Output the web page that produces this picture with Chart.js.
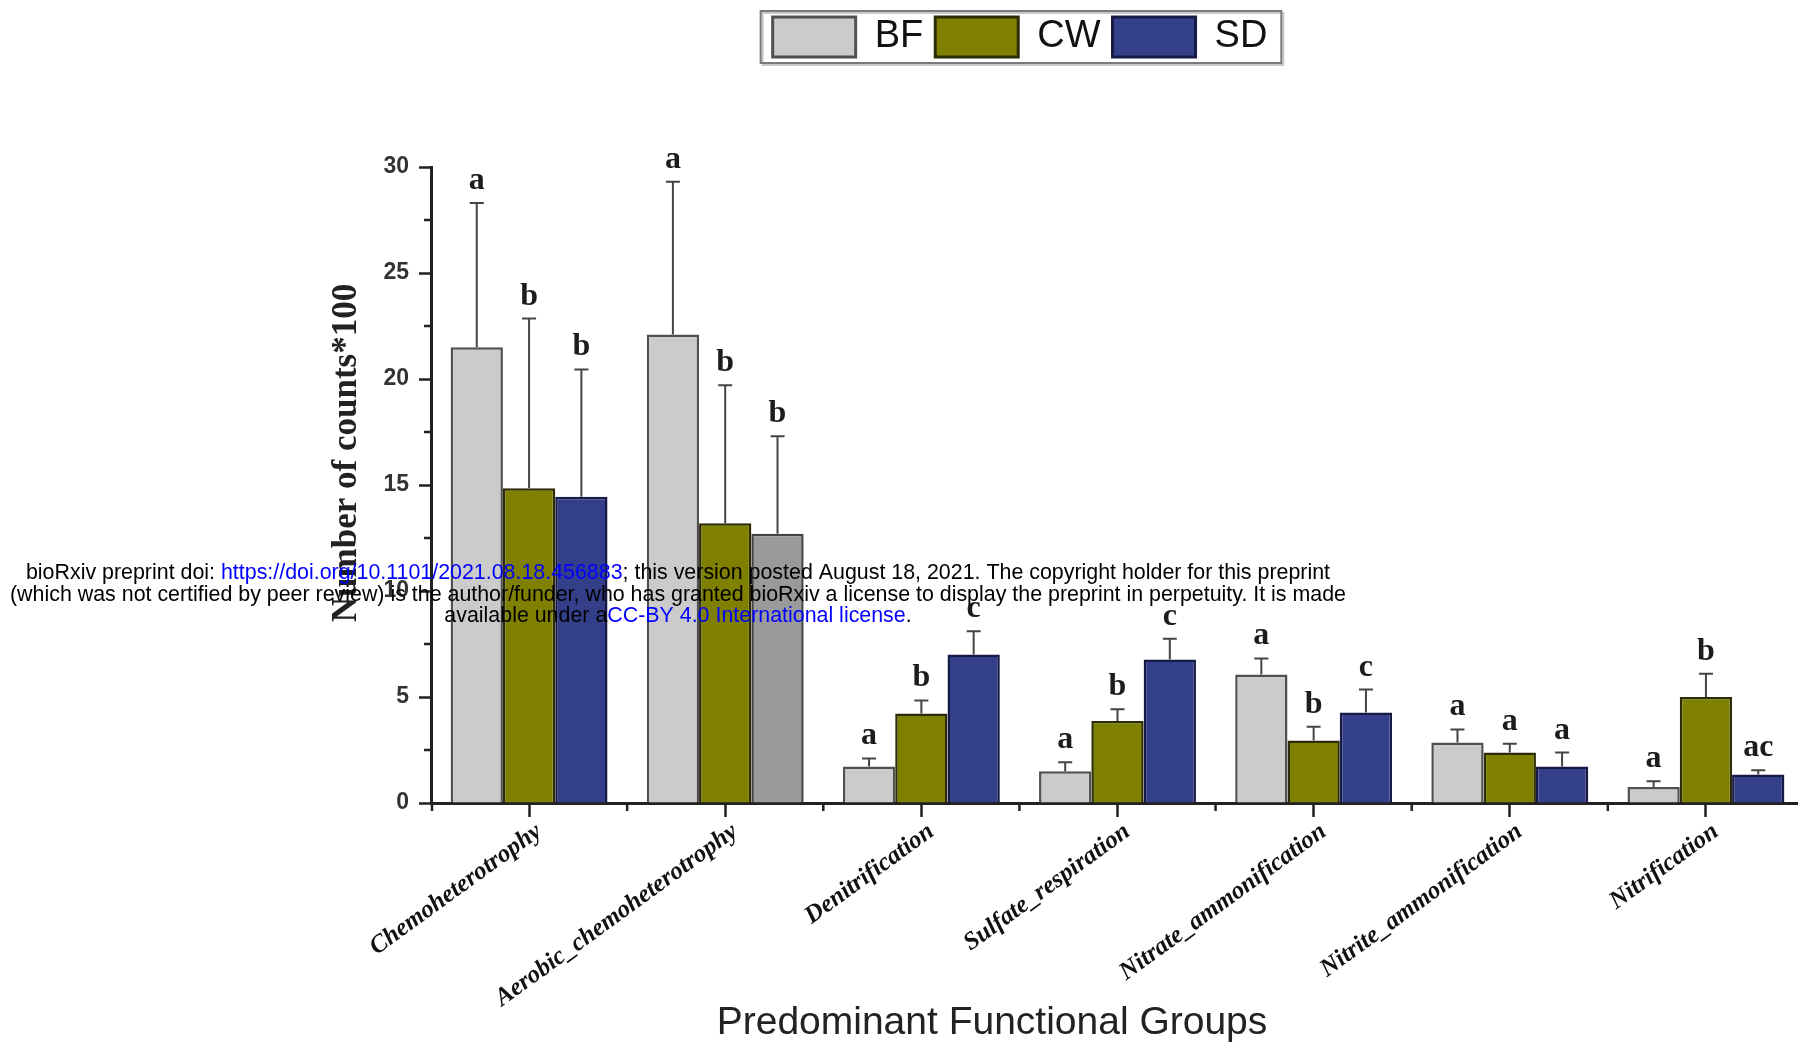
<!DOCTYPE html>
<html>
<head>
<meta charset="utf-8">
<script src="https://cdn.jsdelivr.net/npm/chart.js@4.4.1/dist/chart.umd.min.js"></script>
<style>
  html, body { margin: 0; padding: 0; background: #fff; overflow: hidden; width: 1798px; height: 1050px; }
  #wrap { position: absolute; left: 0; top: 0; width: 1830px; height: 1050px; }
</style>
</head>
<body>
<div id="wrap"><canvas id="c" width="1830" height="1050"></canvas></div>
<script>
// Functional group predictions per treatment (mean, upper SD, significance letters)
const categories = ['Chemoheterotrophy', 'Aerobic_chemoheterotrophy', 'Denitrification', 'Sulfate_respiration',
                    'Nitrate_ammonification', 'Nitrite_ammonification', 'Nitrification'];
const seriesNames = ['BF', 'CW', 'SD'];
const bfValues = [21.5, 22.1, 1.72, 1.5, 6.06, 2.85, 0.75];
const cwValues = [14.85, 13.2, 4.22, 3.87, 2.95, 2.38, 5.0];
const sdValues = [14.45, 12.7, 7.0, 6.77, 4.27, 1.72, 1.35];
const bfErrors = [6.8, 7.2, 0.38, 0.42, 0.76, 0.62, 0.28];
const cwErrors = [8.0, 6.5, 0.62, 0.55, 0.65, 0.42, 1.1];
const sdErrors = [6.0, 4.6, 1.1, 0.98, 1.08, 0.66, 0.2];
const bfLetters = ['a', 'a', 'a', 'a', 'a', 'a', 'a'];
const cwLetters = ['b', 'b', 'b', 'b', 'b', 'a', 'b'];
const sdLetters = ['b', 'b', 'c', 'c', 'c', 'a', 'ac'];
const yTickStep = 5;
const yMax = 30;
const yTitle = 'Number of counts*100';
const xTitle = 'Predominant Functional Groups';

const fills = ['#cbcbcb', '#808000', '#343f8a'];
const borders = ['#505050', '#2b2b05', '#161a45'];
const altFill = '#9a9a9a';      // second SD bar is rendered in grey
const altBorder = '#444444';

const serif = '"Liberation Serif", "Times New Roman", serif';
const sans = '"Liberation Sans", Arial, sans-serif';

// error bars and significance letters above each bar
const errorBars = {
  id: 'errorBars',
  afterDatasetsDraw(chart) {
    const ctx = chart.ctx, y = chart.scales.y;
    chart.data.datasets.forEach((ds, di) => {
      const meta = chart.getDatasetMeta(di);
      meta.data.forEach((bar, i) => {
        const top = y.getPixelForValue(ds.data[i]);
        const end = y.getPixelForValue(ds.data[i] + ds.errors[i]);
        ctx.save();
        ctx.strokeStyle = '#444';
        ctx.lineWidth = 2;
        ctx.beginPath();
        ctx.moveTo(bar.x, top);
        ctx.lineTo(bar.x, end);
        ctx.moveTo(bar.x - 7, end);
        ctx.lineTo(bar.x + 7, end);
        ctx.stroke();
        ctx.font = 'bold 32px ' + serif;
        ctx.fillStyle = '#1c1c1c';
        ctx.textAlign = 'center';
        ctx.textBaseline = 'alphabetic';
        ctx.fillText(ds.letters[i], bar.x, end - 14);
        ctx.restore();
      });
    });
  }
};

// minor ticks on both axes, axis titles, legend frame, preprint notice
const decorations = {
  id: 'decorations',
  afterDraw(chart) {
    const ctx = chart.ctx, ca = chart.chartArea;
    const x = chart.scales.x, y = chart.scales.y;
    ctx.save();
    ctx.strokeStyle = '#222';
    ctx.lineWidth = 2.5;
    ctx.beginPath();
    for (let v = yTickStep / 2; v < yMax; v += yTickStep) {
      const py = y.getPixelForValue(v);
      ctx.moveTo(ca.left - 7, py);
      ctx.lineTo(ca.left, py);
    }
    for (let i = 0; i < categories.length; i++) {
      const px = i === 0 ? ca.left + 1 : (x.getPixelForValue(i - 1) + x.getPixelForValue(i)) / 2;
      ctx.moveTo(px, ca.bottom);
      ctx.lineTo(px, ca.bottom + 8);
    }
    ctx.stroke();

    // axis titles
    ctx.fillStyle = '#222';
    ctx.textAlign = 'center';
    ctx.textBaseline = 'middle';
    ctx.save();
    ctx.translate(347, 453);
    ctx.rotate(-Math.PI / 2);
    ctx.font = 'bold 35px ' + serif;
    ctx.fillText(yTitle, 0, 0);
    ctx.restore();
    ctx.font = '39px ' + sans;
    ctx.fillText(xTitle, 992, 1023);

    // legend frame
    const boxes = chart.legend.legendHitBoxes;
    if (boxes && boxes.length) {
      const l = Math.min(...boxes.map(b => b.left)) - 12;
      const r = Math.max(...boxes.map(b => b.left + b.width)) + 14;
      const t = Math.min(...boxes.map(b => b.top)) - 6;
      const btm = Math.max(...boxes.map(b => b.top + b.height)) + 6;
      ctx.strokeStyle = '#c8c8c8';
      ctx.lineWidth = 2;
      ctx.strokeRect(l + 2, t + 2, r - l, btm - t);
      ctx.strokeStyle = '#7a7a7a';
      ctx.strokeRect(l, t, r - l, btm - t);
    }

    // preprint notice
    const lines = [
      [['bioRxiv preprint doi: ', '#000'], ['https://doi.org/10.1101/2021.08.18.456883', '#0000ff'],
       ['; this version posted August 18, 2021. The copyright holder for this preprint', '#000']],
      [['(which was not certified by peer review) is the author/funder, who has granted bioRxiv a license to display the preprint in perpetuity. It is made', '#000']],
      [['available under a', '#000'], ['CC-BY 4.0 International license', '#0000ff'], ['.', '#000']]
    ];
    const lineY = [573, 595, 616];
    ctx.font = '21.4px ' + sans;
    ctx.textAlign = 'left';
    lines.forEach((parts, li) => {
      const w = parts.reduce((s, p) => s + ctx.measureText(p[0]).width, 0);
      let cx = 678 - w / 2;
      parts.forEach(p => {
        ctx.fillStyle = p[1];
        ctx.fillText(p[0], cx, lineY[li]);
        cx += ctx.measureText(p[0]).width;
      });
    });
    ctx.restore();
  }
};

new Chart(document.getElementById('c'), {
  type: 'bar',
  data: {
    labels: categories,
    datasets: [
      { label: seriesNames[0], data: bfValues, errors: bfErrors, letters: bfLetters,
        backgroundColor: fills[0], borderColor: borders[0], borderWidth: 2.5 },
      { label: seriesNames[1], data: cwValues, errors: cwErrors, letters: cwLetters,
        backgroundColor: fills[1], borderColor: borders[1], borderWidth: 2.5 },
      { label: seriesNames[2], data: sdValues, errors: sdErrors, letters: sdLetters,
        backgroundColor: c => c.dataIndex === 1 ? altFill : fills[2],
        borderColor: c => c.dataIndex === 1 ? altBorder : borders[2], borderWidth: 2.5 }
    ]
  },
  options: {
    responsive: false,
    animation: false,
    datasets: { bar: { categoryPercentage: 0.8, barPercentage: 1.0 } },
    layout: { padding: { left: 236, right: 26, top: 5, bottom: 0 } },
    plugins: {
      tooltip: { enabled: false },
      legend: {
        position: 'top',
        labels: {
          boxWidth: 83, boxHeight: 40, padding: 12,
          font: { family: sans, size: 38 }, color: '#111',
          generateLabels: () => seriesNames.map((n, i) => ({
            text: n, fillStyle: fills[i], strokeStyle: borders[i], lineWidth: 3,
            hidden: false, datasetIndex: i, fontColor: '#111'
          }))
        }
      },
      // empty spacer between the legend and the plotting area
      subtitle: {
        display: true, text: '', position: 'top', weight: 10,
        font: { size: 10, lineHeight: 1 }, padding: { top: 0, bottom: 90 }
      }
    },
    scales: {
      x: {
        afterFit: s => { s.height = 247; },
        grid: { offset: false, drawOnChartArea: false, tickLength: 14, tickWidth: 2.5, tickColor: '#222' },
        border: { display: true, color: '#222', width: 3 },
        ticks: { autoSkip: false, minRotation: 36, maxRotation: 36, padding: 0, labelOffset: 10, color: '#111',
                 font: { family: serif, size: 25, weight: 'bold', style: 'italic' } }
      },
      y: {
        min: 0, max: yMax,
        afterFit: s => { s.width = 195; },
        grid: { drawOnChartArea: false, tickLength: 12, tickWidth: 2.5, tickColor: '#222' },
        border: { display: true, color: '#222', width: 3 },
        ticks: { stepSize: yTickStep, padding: 10, color: '#333',
                 font: { family: sans, size: 23, weight: 'bold' } }
      }
    }
  },
  plugins: [errorBars, decorations]
});
</script>
</body>
</html>
